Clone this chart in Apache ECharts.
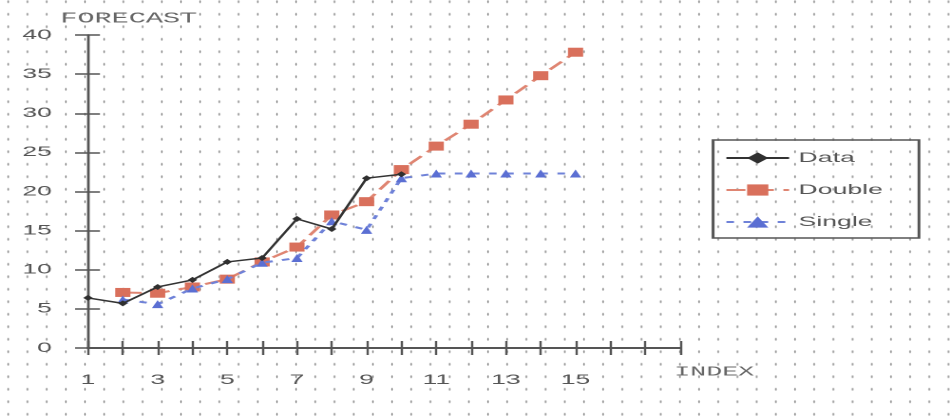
<!DOCTYPE html>
<html>
<head>
<meta charset="utf-8">
<script src="https://cdn.jsdelivr.net/npm/echarts@6/dist/echarts.min.js"></script>
<style>
  html, body { margin: 0; padding: 0; }
  body {
    width: 950px; height: 420px; overflow: hidden; position: relative;
    background-color: #ffffff;
    background-image: radial-gradient(circle, #a3a3a3 0.9px, rgba(255,255,255,0) 1.5px);
    background-size: 19.2px 12.5px;
    background-position: -1.3px -4.5px;
  }
  #chart {
    position: absolute; left: 0; top: 0;
    width: 500px; height: 420px;
    transform: scaleX(1.9); transform-origin: 0 0;
  }
</style>
</head>
<body>
<div id="chart"></div>
<script>
// ---- data ----
const indexValues  = [1, 2, 3, 4, 5, 6, 7, 8, 9, 10, 11, 12, 13, 14, 15];
const dataValues   = [6.4, 5.7, 7.8, 8.7, 11.0, 11.5, 16.5, 15.2, 21.7, 22.2];
const doubleValues = [null, 7.1, 7.0, 7.8, 8.8, 11.0, 12.9, 17.0, 18.7, 22.8, 25.8, 28.6, 31.7, 34.8, 37.8];
const singleValues = [null, 6.2, 5.6, 7.6, 8.8, 10.9, 11.5, 16.2, 15.1, 21.7, 22.3, 22.3, 22.3, 22.3, 22.3];
const seriesNames  = ['Data', 'Double', 'Single'];
const xLabelValues = [1, 3, 5, 7, 9, 11, 13, 15];
const yTicks       = [0, 5, 10, 15, 20, 25, 30, 35, 40];

function pairs(vals) {
  const out = [];
  vals.forEach((v, i) => { if (v !== null) out.push([indexValues[i], v]); });
  return out;
}

const chart = echarts.init(document.getElementById('chart'), null, { renderer: 'canvas', devicePixelRatio: 2 });
const axisColor = '#555';
const labelFont = { color: '#555', fontFamily: 'Liberation Sans', fontSize: 14 };
const nameFont = '"Liberation Mono", "Courier New", monospace';

const option = {
  backgroundColor: 'transparent',
  animation: false,
  grid: { left: 46.3, right: 142.1, top: 35, bottom: 72, containLabel: false },
  legend: {
    orient: 'vertical',
    left: 375.3, top: 140,
    padding: [11, 19, 9, 6],
    itemWidth: 33, itemHeight: 14, itemGap: 18,
    borderColor: '#555', borderWidth: 1.5,
    backgroundColor: 'transparent',
    textStyle: { color: '#555', fontFamily: 'Liberation Sans', fontSize: 14 },
    data: seriesNames
  },
  xAxis: [
    {
      type: 'value', min: 1, max: 18, interval: 1,
      name: 'INDEX', nameLocation: 'end', nameGap: -3,
      nameTextStyle: { color: '#666', fontFamily: nameFont, fontSize: 14, verticalAlign: 'top', align: 'left', padding: [17, 0, 0, 0] },
      axisLine: { show: true, onZero: false, lineStyle: { color: axisColor, width: 2 } },
      axisTick: { show: true, inside: false, length: 7, lineStyle: { color: axisColor, width: 1.2 } },
      axisLabel: Object.assign({ margin: 25, formatter: v => xLabelValues.includes(v) ? String(v) : '' }, labelFont),
      splitLine: { show: false }
    },
    {
      type: 'value', min: 1, max: 18, interval: 1, position: 'bottom',
      axisLine: { show: false, onZero: false },
      axisTick: { show: true, inside: true, length: 7, lineStyle: { color: axisColor, width: 1.2 } },
      axisLabel: { show: false },
      splitLine: { show: false }
    }
  ],
  yAxis: [
    {
      type: 'value', min: yTicks[0], max: yTicks[yTicks.length - 1], interval: 5,
      name: 'FORECAST', nameLocation: 'end', nameGap: 9,
      nameTextStyle: { color: '#666', fontFamily: nameFont, fontSize: 15, align: 'center', padding: [0, 0, 0, 43] },
      axisLine: { show: true, onZero: false, lineStyle: { color: axisColor, width: 1.4 } },
      axisTick: { show: true, inside: false, length: 6.8, lineStyle: { color: axisColor, width: 1.5 } },
      axisLabel: Object.assign({ margin: 19 }, labelFont),
      splitLine: { show: false }
    },
    {
      type: 'value', min: yTicks[0], max: yTicks[yTicks.length - 1], interval: 5, position: 'left',
      axisLine: { show: false, onZero: false },
      axisTick: { show: true, inside: true, length: 6.3, lineStyle: { color: axisColor, width: 1.5 } },
      axisLabel: { show: false },
      splitLine: { show: false }
    }
  ],
  series: [
    {
      name: 'Data', type: 'line', data: pairs(dataValues),
      symbol: 'diamond', symbolSize: [5, 6], showSymbol: true,
      itemStyle: { color: '#2f2f2f' },
      lineStyle: { color: '#333', width: 1.5 },
      z: 5
    },
    {
      name: 'Double', type: 'line', data: pairs(doubleValues),
      symbol: 'rect', symbolSize: [8, 9],
      itemStyle: { color: '#d9705c' },
      lineStyle: { color: '#df8572', width: 2, type: [10, 5] },
      z: 3
    },
    {
      name: 'Single', type: 'line', data: pairs(singleValues),
      symbol: 'triangle', symbolSize: [6, 8],
      itemStyle: { color: '#5b6fd3' },
      lineStyle: { color: '#6f82d8', width: 2, type: [4, 5] },
      z: 4
    }
  ]
};
chart.setOption(option);
</script>
</body>
</html>
